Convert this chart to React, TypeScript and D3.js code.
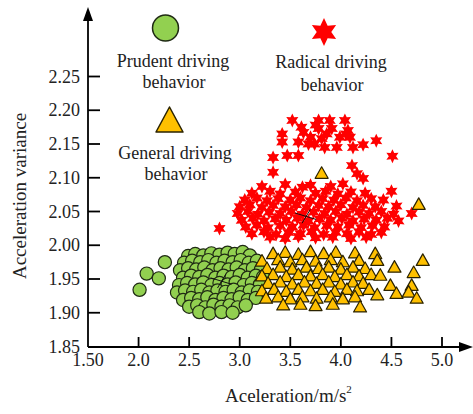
import React from "react";
import * as d3 from "d3";

// tick values / labels
const xTicks = [1.5, 2.0, 2.5, 3.0, 3.5, 4.0, 4.5, 5.0];
const xTickLabels = ["1.50", "2.0", "2.5", "3.0", "3.5", "4.0", "4.5", "5.0"];
const yTicks = [1.85, 1.9, 1.95, 2.0, 2.05, 2.1, 2.15, 2.2, 2.25];
const yTickLabels = ["1.85", "1.90", "1.95", "2.00", "2.05", "2.10", "2.15", "2.20", "2.25"];

// prudent driving (green circles), [acceleration, variance]
const prudentPoints: [number, number][] = [
  [2.01, 1.934], [2.08, 1.958], [2.2, 1.951], [2.26, 1.975],
  [2.49, 1.984], [2.56, 1.987], [2.64, 1.985], [2.72, 1.988], [2.8, 1.986], [2.88, 1.989], [2.95, 1.987], [3.03, 1.99], [3.1, 1.985],
  [2.45, 1.974], [2.53, 1.977], [2.61, 1.975], [2.69, 1.978], [2.77, 1.974], [2.85, 1.977], [2.93, 1.975], [3.01, 1.978], [3.09, 1.974], [3.17, 1.977],
  [2.41, 1.963], [2.49, 1.966], [2.57, 1.964], [2.65, 1.967], [2.73, 1.963], [2.81, 1.966], [2.89, 1.964], [2.97, 1.967], [3.05, 1.963], [3.13, 1.966], [3.21, 1.964],
  [2.44, 1.952], [2.52, 1.955], [2.6, 1.953], [2.68, 1.956], [2.76, 1.952], [2.84, 1.955], [2.92, 1.953], [3.0, 1.956], [3.08, 1.952], [3.16, 1.955], [3.23, 1.953],
  [2.4, 1.941], [2.48, 1.944], [2.56, 1.942], [2.64, 1.945], [2.72, 1.941], [2.8, 1.944], [2.88, 1.942], [2.96, 1.945], [3.04, 1.941], [3.12, 1.944], [3.2, 1.942],
  [2.38, 1.93], [2.46, 1.933], [2.54, 1.931], [2.62, 1.934], [2.7, 1.93], [2.78, 1.933], [2.86, 1.931], [2.94, 1.934], [3.02, 1.93], [3.1, 1.933], [3.18, 1.931],
  [2.44, 1.919], [2.52, 1.922], [2.6, 1.92], [2.68, 1.923], [2.76, 1.919], [2.84, 1.922], [2.92, 1.92], [3.0, 1.923], [3.08, 1.919], [3.16, 1.922],
  [2.5, 1.909], [2.58, 1.911], [2.66, 1.908], [2.74, 1.912], [2.82, 1.909], [2.9, 1.911], [2.98, 1.908], [3.06, 1.911],
  [2.6, 1.901], [2.7, 1.899], [2.82, 1.901], [2.93, 1.9],
];

// radical driving (red stars)
const radicalPoints: [number, number][] = [
  // upper sparse part
  [3.52, 2.185], [3.78, 2.185], [3.89, 2.185], [4.04, 2.185], [3.61, 2.175], [3.42, 2.165], [3.63, 2.167],
  [3.78, 2.173], [3.91, 2.173], [4.07, 2.17], [3.7, 2.16], [3.81, 2.158], [3.99, 2.16], [4.09, 2.16],
  [3.42, 2.153], [3.58, 2.153], [3.68, 2.15], [3.84, 2.145], [3.96, 2.145], [4.12, 2.145], [4.22, 2.149],
  [4.35, 2.155], [3.47, 2.133], [3.58, 2.133], [3.33, 2.13], [4.51, 2.132], [4.11, 2.118], [3.33, 2.108],
  [4.16, 2.106], [4.22, 2.099], [3.75, 2.178], [3.86, 2.165], [4.05, 2.165], [3.74, 2.15],
  // dense lower band
  [3.22, 2.087], [3.45, 2.09], [3.62, 2.086], [3.7, 2.089], [3.9, 2.087], [4.02, 2.091], [4.5, 2.08],
  [3.12, 2.077], [3.3, 2.08], [3.4, 2.076], [3.55, 2.079], [3.75, 2.077], [3.85, 2.08], [3.97, 2.076], [4.1, 2.079], [4.24, 2.077],
  [3.05, 2.067], [3.17, 2.07], [3.27, 2.066], [3.38, 2.069], [3.5, 2.067], [3.6, 2.07], [3.7, 2.066], [3.82, 2.069], [3.93, 2.067], [4.05, 2.07], [4.16, 2.066], [4.3, 2.069], [4.42, 2.067],
  [3.0, 2.057], [3.1, 2.06], [3.22, 2.056], [3.33, 2.059], [3.45, 2.057], [3.56, 2.06], [3.66, 2.056], [3.78, 2.059], [3.88, 2.057], [4.0, 2.06], [4.12, 2.056], [4.22, 2.059], [4.34, 2.057], [4.55, 2.058],
  [2.98, 2.047], [3.08, 2.05], [3.18, 2.046], [3.29, 2.049], [3.4, 2.047], [3.51, 2.05], [3.62, 2.046], [3.73, 2.049], [3.84, 2.047], [3.95, 2.05], [4.06, 2.046], [4.18, 2.049], [4.28, 2.047], [4.4, 2.05], [4.52, 2.046],
  [3.02, 2.037], [3.13, 2.04], [3.24, 2.036], [3.35, 2.039], [3.46, 2.037], [3.57, 2.04], [3.68, 2.036], [3.79, 2.039], [3.9, 2.037], [4.01, 2.04], [4.12, 2.036], [4.23, 2.039], [4.35, 2.037], [4.46, 2.04], [4.57, 2.036],
  [3.06, 2.027], [3.17, 2.03], [3.28, 2.026], [3.4, 2.029], [3.52, 2.027], [3.63, 2.03], [3.74, 2.026], [3.86, 2.029], [3.97, 2.027], [4.08, 2.03], [4.2, 2.026], [4.31, 2.029], [4.43, 2.027],
  [3.12, 2.017], [3.24, 2.02], [3.36, 2.016], [3.48, 2.019], [3.6, 2.017], [3.71, 2.02], [3.83, 2.016], [3.95, 2.019], [4.06, 2.017], [4.18, 2.02], [4.3, 2.016], [4.4, 2.019],
  [3.3, 2.012], [3.45, 2.01], [3.58, 2.013], [3.75, 2.011], [3.92, 2.012], [4.1, 2.01], [4.25, 2.012],
  [2.8, 2.025], [4.7, 2.047],
];

// general driving (yellow triangles)
const generalPoints: [number, number][] = [
  [3.81, 2.106], [4.77, 2.06],
  [3.33, 1.987], [3.45, 1.989], [3.58, 1.986], [3.7, 1.99], [3.83, 1.987], [3.95, 1.989], [4.14, 1.988], [4.34, 1.987],
  [3.22, 1.976], [3.38, 1.978], [3.5, 1.975], [3.62, 1.978], [3.75, 1.976], [3.9, 1.978], [4.02, 1.975], [4.18, 1.977], [4.36, 1.977], [4.81, 1.977],
  [3.27, 1.965], [3.4, 1.967], [3.52, 1.964], [3.66, 1.967], [3.78, 1.965], [3.88, 1.967], [4.0, 1.964], [4.12, 1.967], [4.24, 1.965], [4.53, 1.967],
  [3.22, 1.954], [3.33, 1.956], [3.46, 1.953], [3.58, 1.956], [3.7, 1.954], [3.82, 1.956], [3.94, 1.953], [4.06, 1.956], [4.18, 1.954], [4.3, 1.956], [4.39, 1.955], [4.72, 1.959],
  [3.28, 1.943], [3.4, 1.945], [3.52, 1.942], [3.64, 1.945], [3.76, 1.943], [3.88, 1.945], [4.0, 1.942], [4.12, 1.945], [4.22, 1.943], [4.49, 1.94], [4.7, 1.94],
  [3.22, 1.932], [3.34, 1.934], [3.46, 1.931], [3.58, 1.934], [3.7, 1.932], [3.82, 1.934], [3.94, 1.931], [4.06, 1.934], [4.16, 1.932], [4.28, 1.934], [4.55, 1.928], [4.67, 1.93],
  [3.26, 1.921], [3.38, 1.923], [3.5, 1.92], [3.62, 1.923], [3.76, 1.921], [3.9, 1.923], [4.02, 1.92], [4.14, 1.923], [4.36, 1.926], [4.75, 1.921],
  [3.43, 1.911], [3.6, 1.912], [3.75, 1.91], [3.92, 1.912], [4.19, 1.908],
];

// cluster centres (black crosses)
const centres: [number, number][] = [
  [2.82, 1.947],
  [3.656, 2.043],
];

const W = 473;
const H = 414;
const FONT = "'Liberation Serif', 'Times New Roman', serif";
const GREEN = "#92d050";
const RED = "#ff0000";
const YELLOW = "#ffc000";

const starPath = (r: number) => {
  const pts: [number, number][] = d3.range(12).map((i) => {
    const a = (Math.PI / 6) * i - Math.PI / 2;
    const rr = i % 2 === 0 ? r : r * 0.52;
    return [rr * Math.cos(a), rr * Math.sin(a)];
  });
  return d3.line()(pts) + "Z";
};

const triPath = (w: number, h: number) =>
  `M0,${-h * 0.6}L${w / 2},${h * 0.4}L${-w / 2},${h * 0.4}Z`;

const App = () => {
  const x = d3.scaleLinear().domain([1.5, 5.0]).range([88, 442]);
  const y = d3.scaleLinear().domain([1.85, 2.25]).range([346.5, 76.5]);
  const axisY = 347;
  const smallStar = starPath(7);
  const smallTri = triPath(13, 11.5);

  return (
    <svg
      width={W}
      height={H}
      style={{ position: "absolute", left: 0, top: 0, background: "#fff" }}
      fontFamily={FONT}
    >
      {/* points */}
      <g>
        {prudentPoints.map((p, i) => (
          <circle key={i} cx={x(p[0])} cy={y(p[1])} r={6.6} fill={GREEN} stroke="#1f2a14" strokeWidth={1.2} />
        ))}
      </g>
      <g>
        {radicalPoints.map((p, i) => (
          <path key={i} d={smallStar} transform={`translate(${x(p[0])},${y(p[1])})`} fill={RED} />
        ))}
      </g>
      <g>
        {centres.map((c, i) => (
          <g key={i} transform={`translate(${x(c[0])},${y(c[1])})`} stroke="#111" strokeWidth={1}>
            <line x1={-11} y1={-3.2} x2={10} y2={3.2} />
            <line x1={-4} y1={7} x2={4.2} y2={-6.7} />
          </g>
        ))}
      </g>
      <g>
        {generalPoints.map((p, i) => (
          <path key={i} d={smallTri} transform={`translate(${x(p[0])},${y(p[1])})`} fill={YELLOW} stroke="#2a2200" strokeWidth={1.2} strokeLinejoin="round" />
        ))}
      </g>

      {/* axes */}
      <g stroke="#000" strokeWidth={1.8}>
        <line x1={88} y1={axisY} x2={462} y2={axisY} />
        <line x1={88} y1={axisY} x2={88} y2={18} />
        {xTicks.slice(1).map((t) => (
          <line key={t} x1={x(t)} x2={x(t)} y1={axisY} y2={axisY - 10} />
        ))}
        {yTicks.slice(1).map((t) => (
          <line key={t} x1={88} x2={100} y1={y(t)} y2={y(t)} />
        ))}
      </g>
      <path d={`M473,${axisY}L459,${axisY - 5}L459,${axisY + 5}Z`} fill="#000" />
      <path d="M88,7L83,21L93,21Z" fill="#000" />

      <g fontSize={18} fill="#222">
        {xTicks.map((t, i) => (
          <text key={t} x={x(t)} y={366} textAnchor="middle">
            {xTickLabels[i]}
          </text>
        ))}
        {yTicks.map((t, i) => (
          <text key={t} x={80} y={y(t)} textAnchor="end" dominantBaseline="central">
            {yTickLabels[i]}
          </text>
        ))}
      </g>

      {/* axis titles */}
      <text x={225} y={402} fontSize={19} fill="#222">
        Aceleration/m/s
        <tspan fontSize={11} dy={-9}>2</tspan>
      </text>
      <text transform="translate(26,196) rotate(-90)" textAnchor="middle" fontSize={19} fill="#222">
        Acceleration variance
      </text>

      {/* legend */}
      <circle cx={165.5} cy={28} r={13} fill={GREEN} stroke="#1f2a14" strokeWidth={1.5} />
      <g fontSize={18} fill="#222" textAnchor="middle">
        <text x={173} y={67}>Prudent driving</text>
        <text x={174} y={88}>behavior</text>
        <text x={175} y={159}>General driving</text>
        <text x={176} y={180}>behavior</text>
        <text x={331} y={68}>Radical driving</text>
        <text x={332} y={91}>behavior</text>
      </g>
      <path d="M169.5,107L183,132L156,132Z" fill={YELLOW} stroke="#2a2200" strokeWidth={1.5} strokeLinejoin="round" />
      <path d={starPath(14)} transform="translate(324,32)" fill={RED} />
    </svg>
  );
};

export default App;
